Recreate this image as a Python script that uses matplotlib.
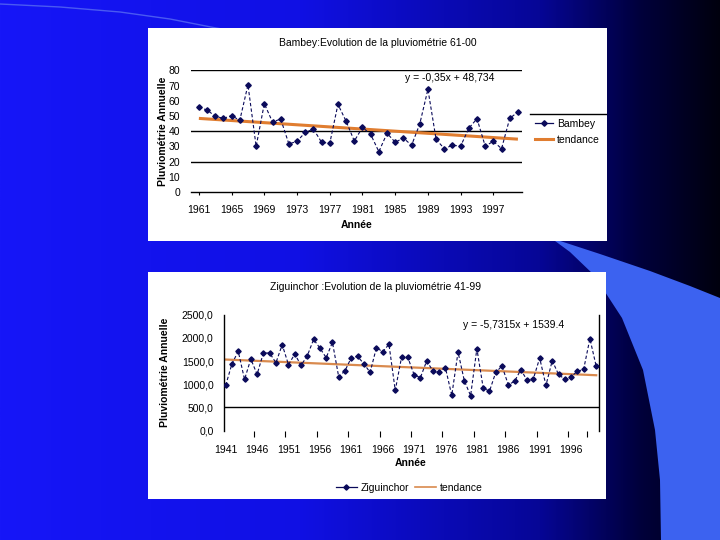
import matplotlib
matplotlib.use('Agg')
import matplotlib.pyplot as plt
import numpy as np
from matplotlib.lines import Line2D
from matplotlib.patches import Rectangle, Polygon

plt.rcParams['font.family'] = ['Liberation Sans', 'DejaVu Sans']

W, H = 720, 540

# ---------------- data ----------------
bambey_years = list(range(1961, 2001))
bambey_values = [55.7, 53.9, 49.8, 48.4, 50.2, 47.1, 70.4, 30.0, 58.1, 46.0,
                 48.0, 31.6, 33.3, 39.2, 41.4, 32.7, 32.0, 57.6, 46.5, 33.5,
                 42.5, 37.9, 26.5, 38.6, 32.7, 35.5, 30.7, 44.7, 67.5, 34.6,
                 28.5, 30.7, 30.2, 41.9, 48.2, 30.2, 33.3, 28.5, 48.4, 52.6]
bambey_slope, bambey_intercept = -0.35, 48.734
bambey_xlabels = [1961, 1965, 1969, 1973, 1977, 1981, 1985, 1989, 1993, 1997]
bambey_yticks = [0, 10, 20, 30, 40, 50, 60, 70, 80]
bambey_ytick_labels = ['0', '10', '20', '30', '40', '50', '60', '70', '80']
bambey_title = 'Bambey:Evolution de la pluviométrie 61-00'
bambey_eq = 'y = -0,35x + 48,734'

zig_years = list(range(1941, 2001))
zig_values = [977, 1444, 1710, 1106, 1545, 1214, 1674, 1674, 1465, 1853,
              1422, 1652, 1408, 1616, 1968, 1782, 1573, 1904, 1157, 1293,
              1573, 1602, 1444, 1257, 1789, 1703, 1861, 869, 1580, 1580,
              1207, 1142, 1501, 1293, 1272, 1351, 761, 1695, 1078, 754,
              1767, 927, 848, 1257, 1394, 991, 1063, 1315, 1085, 1121,
              1566, 977, 1509, 1214, 1106, 1164, 1279, 1322, 1983, 1390]
zig_slope, zig_intercept = -5.7315, 1539.4
zig_xlabels = [1941, 1946, 1951, 1956, 1961, 1966, 1971, 1976, 1981, 1986, 1991, 1996]
zig_yticks = [0, 500, 1000, 1500, 2000, 2500]
zig_ytick_labels = ['0,0', '500,0', '1000,0', '1500,0', '2000,0', '2500,0']
zig_title = 'Ziguinchor :Evolution de la pluviométrie 41-99'
zig_eq = 'y = -5,7315x + 1539.4'

ylabel_txt = 'Pluviométrie Annuelle'
xlabel_txt = 'Année'

NAVY = '#0a0a5a'
ORANGE1 = '#e07d30'
ORANGE2 = '#d98a4e'
FS = 7.5


def fx(px):
    return px / W


def fy(py):
    return 1 - py / H


fig = plt.figure(figsize=(7.2, 5.4), dpi=100)

# ---------------- background ----------------
bg = fig.add_axes([0, 0, 1, 1])
bg.set_xlim(0, W)
bg.set_ylim(H, 0)
bg.axis('off')
xs = np.linspace(0, W, 400)
stops_x = [0, 300, 540, 640, 720]
stops_c = np.array([[22, 22, 248], [16, 16, 228], [6, 6, 150], [0, 0, 60], [0, 0, 14]]) / 255.0
grad = np.stack([np.interp(xs, stops_x, stops_c[:, k]) for k in range(3)], axis=-1)
grad = np.repeat(grad[None, :, :], 2, axis=0)
bg.imshow(grad, extent=(0, W, H, 0), aspect='auto', zorder=0)

light = Polygon([(551, 238), (600, 254), (650, 271), (690, 286), (720, 298),
                 (720, 540), (661, 540), (660, 480), (655, 430), (643, 370),
                 (622, 318), (594, 275), (570, 252)],
                closed=True, facecolor='#3c62f0', edgecolor='none', zorder=1)
bg.add_patch(light)
bg.plot([0, 60, 120, 170, 216, 240], [4, 7, 12, 19, 28, 32], color='#4a5af2', lw=1.0, zorder=2)

bg.add_patch(Rectangle((148, 28), 459, 213, facecolor='white', edgecolor='none', zorder=3))
bg.add_patch(Rectangle((148, 272), 458, 227, facecolor='white', edgecolor='none', zorder=3))

# ---------------- chart 1 : Bambey ----------------
ax1 = fig.add_axes([fx(190.7), fy(192), (522 - 190.7) / W, (192 - 70.3) / H])
ax1.set_facecolor('none')
ax1.set_xlim(1960.0, 2000.5)
ax1.set_ylim(0, 80)
for y in [20, 40, 80]:
    ax1.axhline(y, color='black', lw=1, zorder=1)
for s in ['top', 'right', 'left']:
    ax1.spines[s].set_visible(False)
ax1.spines['bottom'].set_color('black')
ax1.spines['bottom'].set_linewidth(1)

idx1 = np.arange(1, len(bambey_years) + 1)
trend1 = bambey_slope * idx1 + bambey_intercept
ax1.plot(bambey_years, trend1, color=ORANGE1, lw=2.2, zorder=2, solid_capstyle='butt')
ax1.plot(bambey_years, bambey_values, color=NAVY, lw=0.8, ls=(0, (3, 2)), marker='D',
         markersize=2.8, markerfacecolor=NAVY, markeredgecolor=NAVY, zorder=3)

ax1.set_yticks(bambey_yticks)
ax1.set_yticklabels(bambey_ytick_labels)
ax1.set_xticks(bambey_xlabels)
ax1.set_xticklabels([str(v) for v in bambey_xlabels])
ax1.tick_params(axis='y', length=0, pad=7.5, labelsize=FS)
ax1.tick_params(axis='x', length=2, pad=7, labelsize=FS, direction='out')

fig.text(fx(378), fy(43), bambey_title, ha='center', va='center', fontsize=FS)
fig.text(fx(357), fy(225), xlabel_txt, ha='center', va='center', fontsize=FS, fontweight='bold')
fig.text(fx(163), fy(131), ylabel_txt, ha='center', va='center', fontsize=FS,
         fontweight='bold', rotation=90)
fig.text(fx(450), fy(78), bambey_eq, ha='center', va='center', fontsize=FS)

h1 = [Line2D([], [], color=NAVY, lw=0.9, marker='D', markersize=2.8),
      Line2D([], [], color=ORANGE1, lw=2.2)]
fig.legend(h1, ['Bambey', 'tendance'], loc='center left',
           bbox_to_anchor=(fx(534.7), fy(132)), frameon=False, fontsize=FS,
           handlelength=1.75, handletextpad=0.4, labelspacing=0.55,
           borderpad=0, borderaxespad=0)
fig.add_artist(Line2D([fx(530), fx(606)], [fy(114), fy(114)], color='black', lw=1))

# ---------------- chart 2 : Ziguinchor ----------------
ax2 = fig.add_axes([fx(224), fy(430.7), 374.7 / W, 116 / H])
ax2.set_facecolor('none')
ax2.set_xlim(1940.73, 2000.4)
ax2.set_ylim(0, 2500)
ax2.axhline(500, color='black', lw=1, zorder=1)
for s in ['top', 'bottom']:
    ax2.spines[s].set_visible(False)
for s in ['left', 'right']:
    ax2.spines[s].set_color('black')
    ax2.spines[s].set_linewidth(1)

idx2 = np.arange(1, len(zig_years) + 1)
trend2 = zig_slope * idx2 + zig_intercept
ax2.plot(zig_years, trend2, color=ORANGE2, lw=1.6, zorder=2)
ax2.plot(zig_years, zig_values, color=NAVY, lw=0.8, ls=(0, (3, 2)), marker='D',
         markersize=2.7, markerfacecolor=NAVY, markeredgecolor=NAVY, zorder=3)

ax2.set_yticks(zig_yticks)
ax2.set_yticklabels(zig_ytick_labels)
ax2.set_xticks(zig_xlabels)
ax2.set_xticklabels([str(v) for v in zig_xlabels])
ax2.set_xticks([y + 4.5 for y in zig_xlabels[:-1]] + [1998.5], minor=True)
ax2.tick_params(axis='y', length=0, pad=7.5, labelsize=FS)
ax2.tick_params(axis='x', which='major', length=0, pad=10, labelsize=FS)
ax2.tick_params(axis='x', which='minor', length=4, width=0.8, direction='out')

fig.text(fx(376), fy(287), zig_title, ha='center', va='center', fontsize=FS)
fig.text(fx(411), fy(463), xlabel_txt, ha='center', va='center', fontsize=FS, fontweight='bold')
fig.text(fx(164.7), fy(372), ylabel_txt, ha='center', va='center', fontsize=FS,
         fontweight='bold', rotation=90)
fig.text(fx(514), fy(325.3), zig_eq, ha='center', va='center', fontsize=FS)

h2 = [Line2D([], [], color=NAVY, lw=0.9, marker='D', markersize=2.7),
      Line2D([], [], color=ORANGE2, lw=1.2)]
fig.legend(h2, ['Ziguinchor', 'tendance'], loc='center',
           bbox_to_anchor=(fx(409), fy(488)), frameon=False, fontsize=FS, ncol=2,
           handlelength=2.0, handletextpad=0.35, columnspacing=0.6,
           borderpad=0, borderaxespad=0)

fig.savefig('out.png', dpi=100)
